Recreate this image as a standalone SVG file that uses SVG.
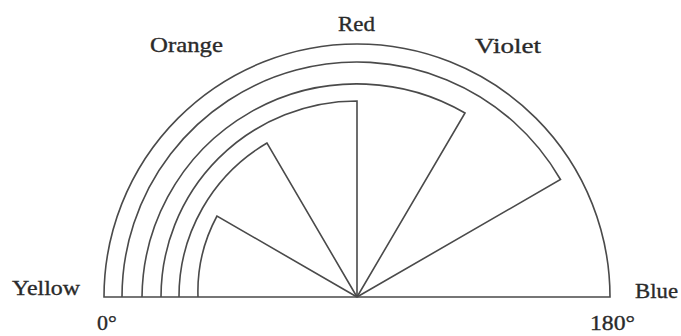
<svg xmlns="http://www.w3.org/2000/svg" width="681" height="336" viewBox="0 0 681 336">
<style>
.s{fill:none;stroke:#4a4a4a;stroke-width:1.6;stroke-linejoin:miter}
.t{font-family:"Liberation Serif","Times New Roman",serif;font-size:22px;fill:#2a2a2a;stroke:#2a2a2a;stroke-width:0.35}
</style>
<rect width="681" height="336" fill="#fff"/>
<g id="outer"><path class="s" d="M104,297 A253,253 0 0 1 610,297 Z"/></g>
<g id="sector30"><path class="s" d="M122,297 A235,235 0 0 1 560.5,179.5 L357,297"/></g>
<g id="sector60"><path class="s" d="M142,297 A215,215 0 0 1 465,113 L357,297"/></g>
<g id="sector90"><path class="s" d="M161,297 A196,196 0 0 1 357,101 L357,297"/></g>
<g id="sector120"><path class="s" d="M179,297 A178,178 0 0 1 267,143 L357,297"/></g>
<g id="sector150"><path class="s" d="M198,297 A159,159 0 0 1 217,216 L357,297"/></g>
<g id="labels">
<text class="t" x="12" y="295" textLength="68" lengthAdjust="spacingAndGlyphs">Yellow</text>
<text class="t" x="150" y="52" textLength="73" lengthAdjust="spacingAndGlyphs">Orange</text>
<text class="t" x="338" y="31" textLength="37" lengthAdjust="spacingAndGlyphs">Red</text>
<text class="t" x="475" y="53" textLength="66" lengthAdjust="spacingAndGlyphs">Violet</text>
<text class="t" x="635" y="298" textLength="43" lengthAdjust="spacingAndGlyphs">Blue</text>
<text class="t" x="97" y="330">0°</text>
<text class="t" x="590" y="330" textLength="45" lengthAdjust="spacingAndGlyphs">180°</text>
</g>
</svg>
